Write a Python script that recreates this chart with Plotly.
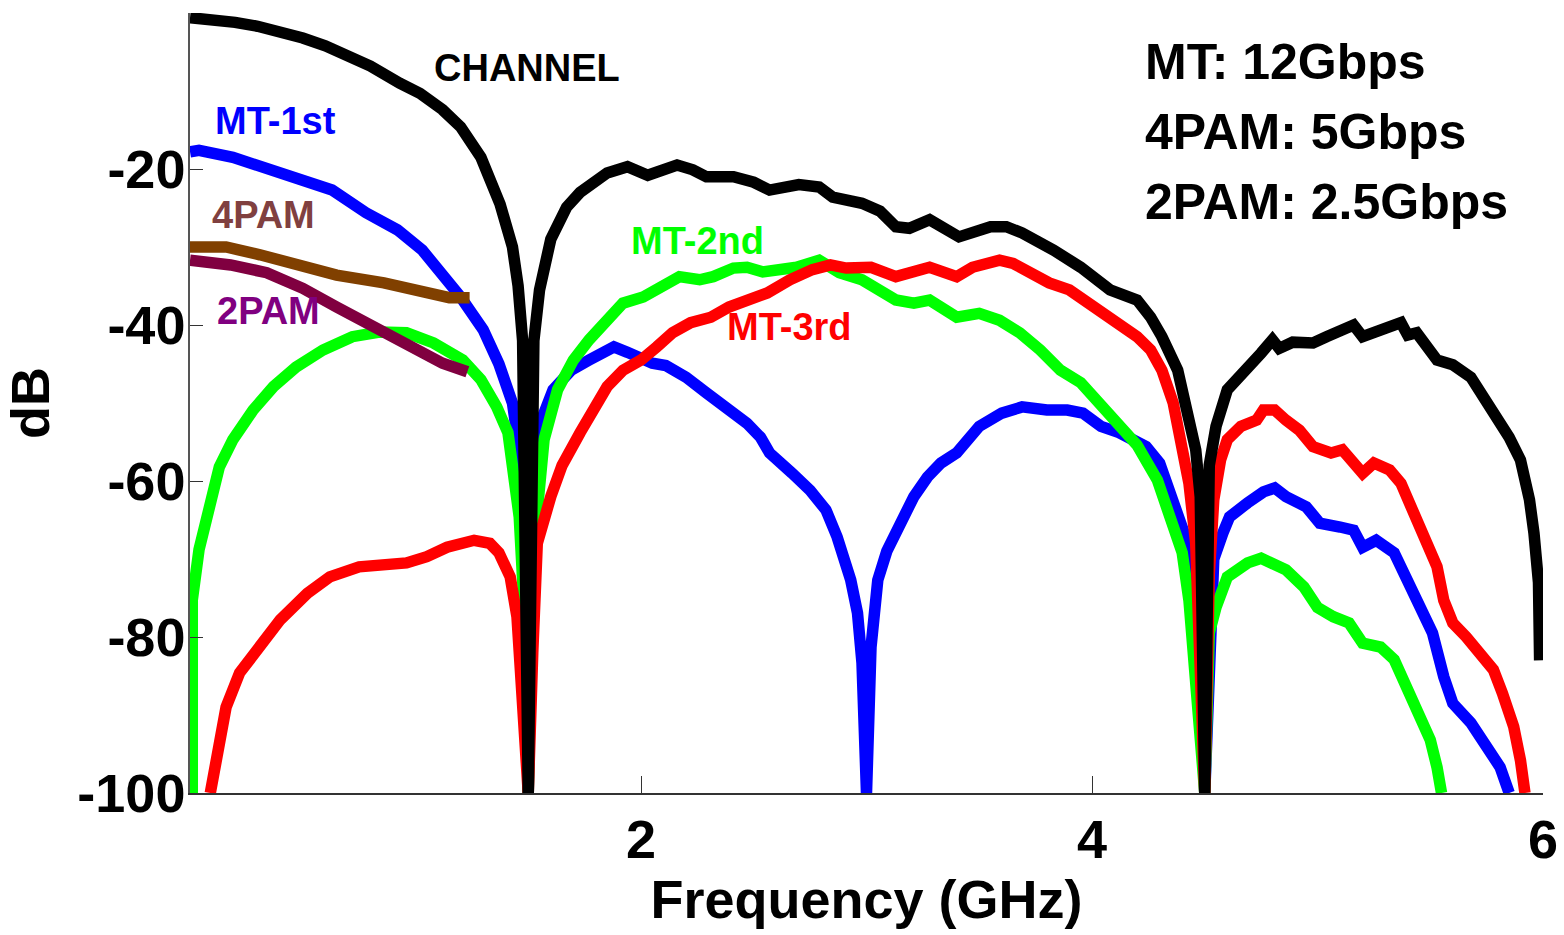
import plotly.graph_objects as go

# ---------------- data (GHz, dB) ----------------
ch_f = [0, 0.1, 0.2, 0.3, 0.4, 0.5, 0.6, 0.7, 0.8, 0.93, 1.02, 1.12, 1.2, 1.29, 1.375, 1.43, 1.455, 1.475, 1.5,
        1.525, 1.55, 1.6, 1.67, 1.73, 1.85, 1.94, 2.03, 2.16, 2.23, 2.29, 2.41, 2.5, 2.57, 2.7, 2.79, 2.85, 2.98,
        3.06, 3.13, 3.19, 3.28, 3.41, 3.55, 3.62, 3.69, 3.83, 3.95, 4.08, 4.2, 4.26, 4.31, 4.38, 4.42, 4.46, 4.48,
        4.5, 4.52, 4.55, 4.6, 4.66, 4.75, 4.8, 4.83, 4.89, 4.98, 5.04, 5.11, 5.16, 5.2, 5.26, 5.32, 5.37, 5.4,
        5.44, 5.53, 5.6, 5.68, 5.78, 5.85, 5.9, 5.94, 5.96, 5.98, 5.985]
ch_db = [-0.6, -0.8, -1.2, -1.7, -2.3, -3.2, -4.2, -5.4, -6.8, -9.0, -10.3, -12.4, -14.6, -18.5, -24.5, -30, -35, -42, -100,
         -42, -35.5, -29, -24.9, -23, -20.5, -19.7, -20.8, -19.5, -20.1, -21, -21, -21.7, -22.7, -22, -22.3, -23.6, -24.4,
         -25.4, -27.4, -27.6, -26.5, -28.7, -27.4, -27.4, -28.2, -30.4, -32.6, -35.5, -36.8, -39, -41.5, -45.8, -50.5, -56, -62,
         -100, -58, -53, -48.3, -46.2, -43.6, -41.9, -43, -42.2, -42.3, -41.5, -40.4, -40, -41.5, -41, -40.3, -39.7, -41.3,
         -41, -44.5, -45.1, -46.7, -50.9, -54.4, -57.3, -62.4, -66.7, -73, -83]

mt1_f = [0, 0.04, 0.19, 0.41, 0.63, 0.78, 0.92, 1.03, 1.2, 1.3, 1.37, 1.43, 1.46, 1.48, 1.5, 1.52, 1.55, 1.61, 1.69,
         1.77, 1.88, 1.94, 2.0, 2.05, 2.11, 2.2, 2.29, 2.38, 2.47, 2.53, 2.57, 2.67, 2.75, 2.82, 2.87, 2.93, 2.96, 2.98,
         3.0, 3.02, 3.05, 3.09, 3.15, 3.21, 3.27, 3.33, 3.4, 3.5, 3.6, 3.69, 3.8, 3.89, 3.96, 4.04, 4.12, 4.24, 4.3,
         4.36, 4.42, 4.45, 4.48, 4.5, 4.52, 4.54, 4.58, 4.61, 4.69, 4.76, 4.81, 4.86, 4.95, 5.01, 5.1, 5.16, 5.2, 5.26,
         5.34, 5.4, 5.45, 5.51, 5.56, 5.6, 5.68, 5.75, 5.81, 5.85]
mt1_db = [-17.8, -17.6, -18.5, -20.5, -22.7, -25.6, -27.8, -30.4, -36.4, -40.6, -45, -50, -56, -66, -100, -65, -52.8, -48.3, -45.8,
          -44.5, -42.8, -43.5, -44.2, -44.9, -45.2, -46.7, -48.7, -50.5, -52.6, -54.4, -56.4, -59, -61.2, -63.7, -67.2, -72.7, -76.9, -83.3,
          -100, -81.3, -72.7, -69, -65.4, -62, -59.5, -57.7, -56.4, -53, -51.3, -50.5, -50.9, -50.9, -51.3, -53, -53.8, -55.6, -57.7,
          -62.4, -67.6, -73, -82, -100, -78, -70, -66.7, -64.6, -62.8, -61.4, -60.9, -62, -63.3, -65.4, -65.9, -66.3, -68.5, -67.6,
          -69.2, -72.7, -76.2, -79.5, -85.1, -88.5, -91, -94.1, -96.7, -100]

mt2_f = [0.01, 0.01, 0.04, 0.08, 0.13, 0.19, 0.28, 0.37, 0.47, 0.59, 0.72, 0.84, 0.96, 1.08, 1.21, 1.29, 1.36, 1.41, 1.43,
         1.46, 1.48, 1.5, 1.52, 1.57, 1.63, 1.7, 1.77, 1.85, 1.92, 2.01, 2.08, 2.17, 2.26, 2.32, 2.41, 2.47, 2.54, 2.62,
         2.69, 2.79, 2.88, 2.98, 3.06, 3.13, 3.21, 3.28, 3.4, 3.5, 3.59, 3.68, 3.77, 3.86, 3.95, 4.02, 4.09, 4.2, 4.29,
         4.36, 4.4, 4.43, 4.45, 4.48, 4.5, 4.52, 4.55, 4.6, 4.69, 4.75, 4.8, 4.86, 4.94, 5.0, 5.07, 5.14, 5.2, 5.28,
         5.34, 5.4, 5.45, 5.5, 5.53, 5.55]
mt2_db = [-100, -75.3, -68.8, -63.3, -58.2, -54.7, -50.9, -47.9, -45.4, -43.2, -41.5, -40.9, -41, -42.3, -44.5, -47, -50.5, -53.8, -58.2,
          -64.6, -75.3, -100, -70, -54.7, -48.3, -44.5, -41.9, -39.4, -37.2, -36.4, -35.1, -33.8, -34.2, -33.8, -32.7, -32.6, -33.2, -32.9,
          -32.6, -31.7, -33.3, -34.2, -35.5, -36.8, -37.2, -36.8, -39, -38.5, -39.4, -41, -43.2, -45.8, -47.4, -49.6, -52, -55.4, -59.9,
          -65.5, -69.2, -75.3, -81.7, -90, -100, -79.5, -76.2, -72.3, -70.5, -69.9, -70.5, -71.4, -73.6, -76.2, -77.4, -78.2, -80.8, -81.3,
          -82.9, -86.8, -89.7, -93.2, -96.7, -100]

mt3_f = [0.09, 0.12, 0.16, 0.22, 0.3, 0.4, 0.52, 0.62, 0.75, 0.87, 0.96, 1.05, 1.14, 1.26, 1.33, 1.37, 1.42, 1.45, 1.47,
         1.5, 1.52, 1.54, 1.6, 1.65, 1.73, 1.79, 1.85, 1.92, 2.0, 2.07, 2.14, 2.22, 2.31, 2.39, 2.47, 2.56, 2.66, 2.76,
         2.84, 2.91, 3.02, 3.13, 3.28, 3.4, 3.47, 3.59, 3.65, 3.72, 3.81, 3.9, 3.99, 4.09, 4.2, 4.26, 4.31, 4.36, 4.4,
         4.43, 4.46, 4.5, 4.52, 4.54, 4.57, 4.6, 4.66, 4.73, 4.76, 4.81, 4.86, 4.92, 4.98, 5.06, 5.11, 5.14, 5.2, 5.25,
         5.32, 5.37, 5.41, 5.47, 5.53, 5.56, 5.6, 5.66, 5.72, 5.78, 5.82, 5.87, 5.9, 5.92]
mt3_db = [-100, -94.5, -89, -84.6, -81.3, -77.8, -74.4, -72.3, -71, -70.8, -70.5, -69.7, -68.5, -67.6, -68, -69.2, -72.3, -77.4, -85,
          -100, -82, -68, -62, -58, -53.8, -50.5, -47.9, -45.8, -44.5, -42.8, -41, -39.7, -39, -37.7, -36.8, -35.9, -34.2, -32.9,
          -32.3, -32.7, -32.6, -33.8, -32.6, -33.8, -32.6, -31.7, -32.1, -33.3, -34.6, -35.5, -37.2, -39.4, -41.5, -43.2, -45.8, -50, -55,
          -60.3, -68, -100, -72, -62.4, -57.3, -54.7, -53, -52.2, -50.9, -50.9, -52.2, -53.5, -55.6, -56.4, -56, -56.9, -59, -57.7,
          -58.6, -60.3, -62.8, -66.7, -71, -75.3, -78.2, -80, -82.1, -84.2, -87.2, -91.5, -95.8, -100]

pam4_f = [0, 0.16, 0.31, 0.49, 0.65, 0.86, 1.03, 1.15, 1.24]
pam4_db = [-30, -30, -31, -32.3, -33.6, -34.6, -35.8, -36.5, -36.5]

pam2_f = [0, 0.18, 0.34, 0.5, 0.65, 0.78, 0.9, 1.01, 1.12, 1.23]
pam2_db = [-31.7, -32.3, -33.3, -35.3, -37.7, -39.7, -41.9, -43.6, -44.9, -46]

x_ticks = [2, 4, 6]
y_ticks = [-100, -80, -60, -40, -20]
rate_text = ["MT: 12Gbps", "4PAM: 5Gbps", "2PAM: 2.5Gbps"]

# ---------------- figure ----------------
FONT = "Liberation Sans, Arial, sans-serif"
LW = 11.5

fig = go.Figure()
series = [
    (mt1_f, mt1_db, "#0000FF"),
    (mt2_f, mt2_db, "#00FF00"),
    (mt3_f, mt3_db, "#FF0000"),
    (ch_f, ch_db, "#000000"),
    (pam4_f, pam4_db, "#804000"),
    (pam2_f, pam2_db, "#800040"),
]
for fx, fy, col in series:
    fig.add_trace(go.Scatter(x=fx, y=fy, mode="lines",
                             line=dict(color=col, width=LW),
                             hoverinfo="skip", showlegend=False))

labels = [
    ("CHANNEL", 1.495, -7.1, "#000000"),
    ("MT-1st", 0.377, -13.8, "#0000FF"),
    ("4PAM", 0.328, -25.9, "#804040"),
    ("2PAM", 0.346, -38.2, "#800080"),
    ("MT-2nd", 2.25, -29.2, "#00FF00"),
    ("MT-3rd", 2.66, -40.3, "#FF0000"),
]
for txt, xx, yy, col in labels:
    fig.add_annotation(x=xx, y=yy, text=txt, showarrow=False, xanchor="center", yanchor="middle",
                       font=dict(family=FONT, size=38, color=col, weight="bold"))

for txt, yy in zip(rate_text, [-6.3, -15.3, -24.2]):
    fig.add_annotation(x=4.225, y=yy, text=txt, showarrow=False, xanchor="left", yanchor="middle",
                       font=dict(family=FONT, size=50, color="#000000", weight="bold"))

fig.update_layout(
    width=1564, height=935,
    margin=dict(l=190, r=21, t=13, b=142),
    paper_bgcolor="white", plot_bgcolor="white",
    xaxis=dict(range=[0, 6], tickvals=x_ticks, ticktext=[str(v) for v in x_ticks],
               ticks="inside", ticklen=17, tickwidth=1, tickcolor="#333333",
               showline=True, linecolor="#333333", linewidth=1.5,
               showgrid=False, zeroline=False, automargin=False,
               ticklabelstandoff=-2,
               tickfont=dict(family=FONT, size=54, color="black", weight="bold"),
               title=dict(text="Frequency (GHz)", standoff=4,
                          font=dict(family=FONT, size=54, color="black", weight="bold"))),
    yaxis=dict(range=[-100, 0], tickvals=y_ticks, ticktext=[str(v) for v in y_ticks],
               ticks="inside", ticklen=13, tickwidth=1, tickcolor="#333333",
               showline=True, linecolor="#555555", linewidth=1.5,
               showgrid=False, zeroline=False, automargin=False,
               ticklabelstandoff=-8,
               tickfont=dict(family=FONT, size=54, color="black", weight="bold"),
               title=dict(text="dB", standoff=14,
                          font=dict(family=FONT, size=54, color="black", weight="bold"))),
)

fig.write_html("out.html")
